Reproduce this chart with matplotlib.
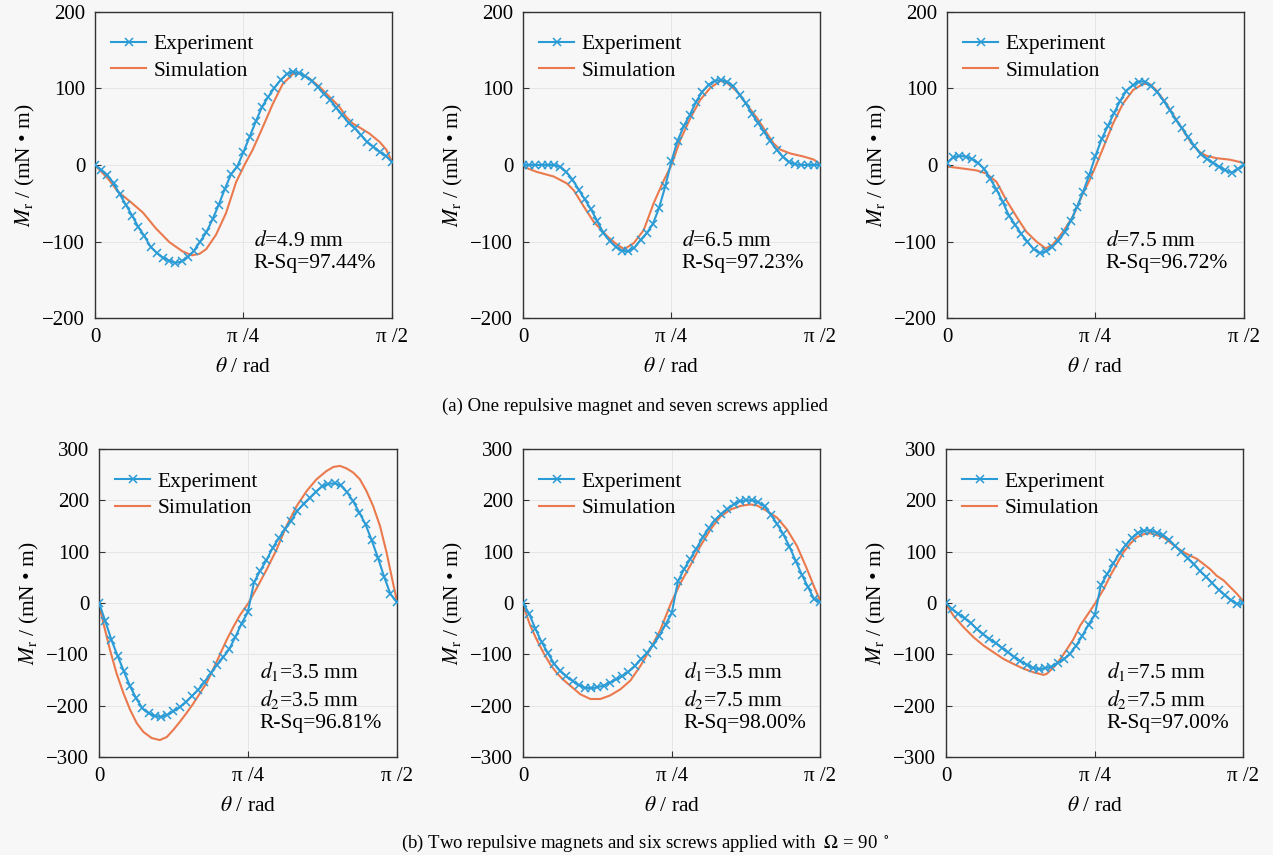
import numpy as np
import matplotlib.pyplot as plt

plt.rcParams['font.family'] = ['Liberation Serif', 'DejaVu Serif']
plt.rcParams['mathtext.fontset'] = 'stix'

# experiment sampled every 1.875 deg from 0 to 90 deg
exp_deg = np.linspace(0, 90, 49)

# --- (a) one repulsive magnet, seven screws ---
exp_a1 = [0, -6, -13, -24, -38, -52, -66, -81, -93, -107, -115, -121, -125, -128, -126, -120,
          -112, -100, -88, -71, -52, -31, -12, -2, 17, 37, 57, 76, 89, 101, 111, 119,
          122, 120, 116, 110, 102, 93, 85, 75, 65, 55, 48, 39, 30, 24, 17, 12, 4]
sim_a1_deg = [0, 4, 7, 11, 14.5, 18.5, 22.6, 26.6, 29.4, 31.7, 33.7, 36.7, 39.7, 42.8, 45.3, 47.8,
              50.9, 53.9, 56.9, 60, 62, 65, 68.1, 71.1, 74.1, 76.1, 78.2, 80.2, 83.2, 86.3, 88.3, 90]
sim_a1 = [0, -18, -35, -49, -62, -83, -101, -113, -118, -116, -110, -91, -63, -22, 0, 20,
          50, 80, 106, 119, 120, 113, 102, 89, 76, 63, 54, 49, 41, 30, 20, 4]

exp_a2 = [0, 0, 0, 0, 0, 0, -2, -9, -19, -32, -45, -58, -73, -89, -99, -107,
          -112, -113, -108, -98, -89, -77, -56, -28, 5, 32, 51, 66, 83, 96, 105, 110,
          111, 109, 103, 92, 81, 67, 55, 43, 31, 20, 11, 4, 1, 0, 0, 0, 0]
sim_a2_deg = [0, 4.2, 9.3, 13.3, 15.4, 18.4, 21.4, 25.5, 28.5, 30.7, 33.6, 36.6, 39.6, 42.7, 45, 47.7,
              50.7, 53.7, 56.8, 59.9, 61.9, 64.9, 68, 71, 74, 76, 78, 81.1, 85.1, 88.2, 90]
sim_a2 = [-2, -9, -15, -24, -33, -54, -74, -93, -104, -110, -102, -85, -50, -20, 0, 33,
          61, 85, 101, 110, 107, 96, 78, 61, 41, 28, 20, 15, 11, 7, 1]

exp_a3 = [2, 10, 12, 11, 8, 3, -5, -18, -32, -48, -66, -78, -90, -100, -110, -115,
          -113, -107, -99, -88, -73, -55, -35, -13, 12, 34, 51, 68, 84, 97, 104, 109,
          109, 103, 95, 84, 72, 59, 48, 36, 25, 14, 8, 3, -2, -7, -10, -5, 0]
sim_a3_deg = [0, 3.8, 8.9, 11.9, 15, 18, 21, 24, 27.1, 29.9, 32.1, 35.2, 38.2, 41.2, 43.2, 45,
              47.3, 50.3, 53.3, 56.4, 59.4, 61.4, 63.4, 66.5, 69.5, 72.5, 74.5, 76.6, 78.6, 81.6,
              85.7, 88.7, 90]
sim_a3 = [-2, -4, -7, -11, -22, -46, -67, -87, -100, -109, -104, -87, -67, -37, -20, -2,
          22, 54, 80, 98, 106, 106, 98, 80, 59, 39, 26, 17, 12, 9, 7, 4, 2]

# --- (b) two repulsive magnets, six screws ---
exp_b1 = [0, -35, -72, -103, -133, -162, -186, -205, -215, -220, -222, -218, -211, -203, -193, -181,
          -169, -154, -137, -121, -106, -90, -66, -40, -18, 40, 63, 83, 107, 126, 144, 160,
          180, 193, 205, 217, 227, 232, 233, 229, 216, 198, 176, 153, 122, 88, 51, 18, 2]
sim_b1_deg = [0, 1.3, 3.3, 5.3, 7.4, 9.4, 11.4, 13.4, 15.9, 18.4, 20.5, 22.5, 24.5, 26.5, 28.5, 30.5,
              32.6, 34.6, 36.6, 38.6, 40.6, 42.6, 45.2, 47.7, 50.7, 53.7, 56.7, 59.8, 62.8, 65.8,
              68.8, 70.9, 72.9, 74.9, 76.9, 78.9, 80.9, 82.9, 85, 87, 88.5, 90]
sim_b1 = [0, -39, -91, -137, -176, -208, -234, -251, -263, -267, -261, -247, -231, -214, -196, -176,
          -155, -128, -100, -72, -47, -24, 0, 29, 65, 104, 150, 189, 218, 241,
          257, 265, 267, 262, 254, 241, 218, 189, 150, 98, 52, 7]

exp_b2 = [0, -21, -50, -76, -97, -118, -132, -143, -152, -160, -165, -166, -164, -161, -155, -149,
          -143, -134, -123, -110, -97, -82, -64, -42, -20, 42, 66, 86, 106, 128, 146, 162,
          173, 183, 192, 198, 200, 200, 196, 188, 172, 154, 134, 110, 82, 55, 31, 7, 2]
sim_b2_deg = [0, 2.2, 4.2, 6.3, 8.3, 10.3, 12.3, 14.3, 17.4, 20.4, 23.4, 26.4, 29.5, 32.5, 35.5, 38.5,
              41.6, 44.8, 47.6, 50.7, 53.7, 56.7, 59.7, 62.8, 65.8, 68.8, 70.8, 73.9, 76.9, 79.9,
              82.9, 86, 88, 90]
sim_b2 = [-3, -44, -72, -98, -120, -137, -150, -161, -178, -187, -187, -180, -168, -151, -123, -90,
          -52, 0, 38, 74, 111, 143, 168, 182, 189, 192, 190, 179, 166, 143,
          111, 65, 33, 3]

exp_b3 = [0, -12, -21, -30, -39, -51, -61, -70, -78, -87, -96, -105, -113, -120, -126, -129,
          -127, -124, -117, -110, -99, -83, -64, -42, -24, 35, 56, 77, 97, 113, 127, 137,
          141, 141, 137, 132, 123, 111, 99, 87, 75, 62, 51, 38, 26, 15, 5, -2, 0]
sim_b3_deg = [0, 2.3, 5.3, 8.4, 11.4, 14.4, 17.4, 20.5, 23.5, 26.5, 29.5, 30.5, 32.6, 34.6, 36.6, 38.6,
              40.6, 42.6, 45.2, 47.7, 49.7, 51.7, 53.7, 55.7, 57.7, 59.8, 61.8, 63.8, 65.8, 67.8,
              69.8, 71.9, 73.9, 75.9, 77.9, 79.9, 81.9, 84, 86, 88, 90]
sim_b3 = [-2, -25, -47, -67, -83, -96, -109, -119, -128, -135, -140, -138, -125, -109, -90, -70,
          -44, -25, 0, 27, 53, 76, 99, 115, 128, 134, 136, 132, 128, 118,
          108, 99, 92, 86, 76, 66, 53, 44, 31, 18, 3]

notes_a = ['$d$=4.9 mm\nR-Sq=97.44%', '$d$=6.5 mm\nR-Sq=97.23%', '$d$=7.5 mm\nR-Sq=96.72%']
notes_b = ['$d_1$=3.5 mm\n$d_2$=3.5 mm\nR-Sq=96.81%',
           '$d_1$=3.5 mm\n$d_2$=7.5 mm\nR-Sq=98.00%',
           '$d_1$=7.5 mm\n$d_2$=7.5 mm\nR-Sq=97.00%']

blue = '#2b9bd6'
orange = '#ea7a4e'
bg = '#f7f7f7'

fig = plt.figure(figsize=(12.73, 8.55), dpi=100, facecolor=bg)

top_lefts = [0.0746, 0.4108, 0.7439]
bot_lefts = [0.0778, 0.4108, 0.7431]

panels = []
for i, x0 in enumerate(top_lefts):
    ax = fig.add_axes([x0, 0.628, 0.2333, 0.358])
    panels.append((ax, [exp_a1, exp_a2, exp_a3][i],
                   [sim_a1_deg, sim_a2_deg, sim_a3_deg][i], [sim_a1, sim_a2, sim_a3][i],
                   notes_a[i], 200, (0.535, 0.217), 1.2))
for i, x0 in enumerate(bot_lefts):
    ax = fig.add_axes([x0, 0.1146, 0.2337, 0.3603])
    panels.append((ax, [exp_b1, exp_b2, exp_b3][i],
                   [sim_b1_deg, sim_b2_deg, sim_b3_deg][i], [sim_b1, sim_b2, sim_b3][i],
                   notes_b[i], 300, (0.54, 0.196), 1.27))

for ax, exp_y, sim_x, sim_y, note, lim, pos, lsp in panels:
    ax.set_facecolor(bg)
    ax.plot(np.radians(exp_deg), exp_y, color=blue, lw=1.5, marker='x', ms=5.5, mew=1.1,
            label='Experiment', zorder=3)
    ax.plot(np.radians(sim_x), sim_y, color=orange, lw=1.5, label='Simulation', zorder=2)
    ax.set_xlim(0, np.pi / 2)
    ax.set_ylim(-lim, lim)
    ax.set_xticks([0, np.pi / 4, np.pi / 2])
    ax.set_xticklabels(['0', 'π /4', 'π /2'])
    ax.set_yticks(np.arange(-lim, lim + 1, 100))
    ax.tick_params(direction='in', length=4, labelsize=15, pad=7, color='#333333')
    ax.grid(True, color='#e6e6e6', lw=0.7)
    ax.set_axisbelow(True)
    for s in ax.spines.values():
        s.set_color('#333333')
        s.set_linewidth(1.0)
    ax.set_xlabel(r'$\theta$ / rad', fontsize=15.5, labelpad=8)
    ax.set_ylabel(r'$M_{\rm r}$ / (mN • m)', fontsize=15.5, labelpad=4)
    ax.legend(loc='upper left', bbox_to_anchor=(0.055, 0.927), frameon=False, fontsize=15.5,
              borderaxespad=0, borderpad=0, handlelength=1.6, handletextpad=0.35,
              labelspacing=0.3)
    ax.text(pos[0], pos[1], note, transform=ax.transAxes, fontsize=15.5, va='center',
            linespacing=lsp)

fig.text(0.499, 0.525, '(a) One repulsive magnet and seven screws applied', ha='center',
         va='center', fontsize=13.5)
fig.text(0.507, 0.014, r'(b) Two repulsive magnets and six screws applied with  $\mathit{\Omega}$ = 90 $^\circ$',
         ha='center', va='center', fontsize=13.5)

fig.savefig('out.png', dpi=100, facecolor=bg)
